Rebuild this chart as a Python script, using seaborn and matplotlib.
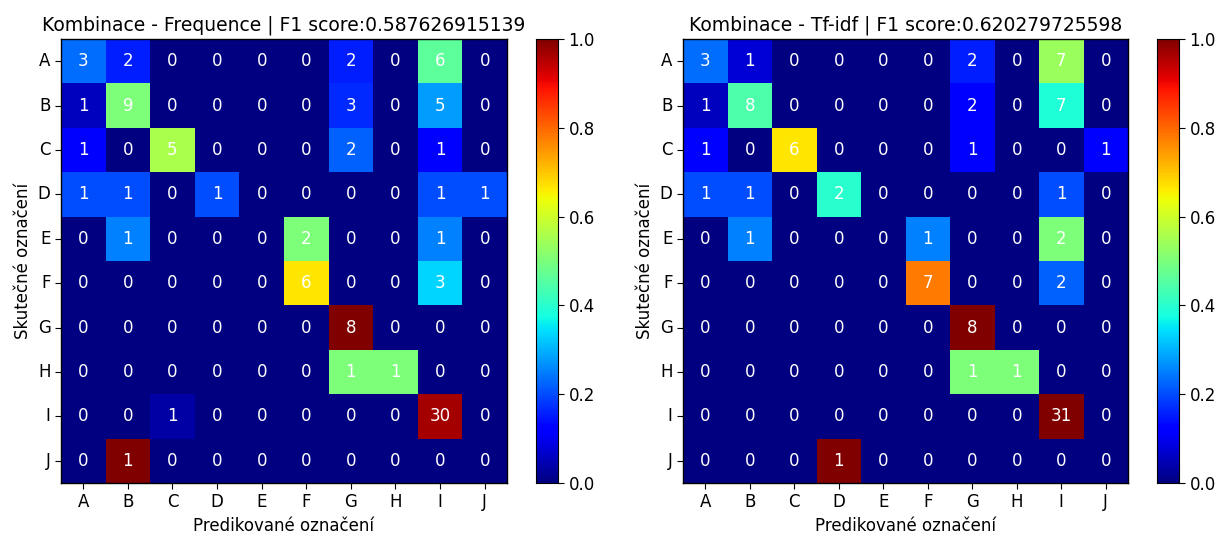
import numpy as np
import pandas as pd
import seaborn as sns
import matplotlib
matplotlib.use("Agg")
import matplotlib.pyplot as plt

labels = ["A", "B", "C", "D", "E", "F", "G", "H", "I", "J"]

# confusion matrix - frequence
cm_freq = [
    [3, 2, 0, 0, 0, 0, 2, 0, 6, 0],
    [1, 9, 0, 0, 0, 0, 3, 0, 5, 0],
    [1, 0, 5, 0, 0, 0, 2, 0, 1, 0],
    [1, 1, 0, 1, 0, 0, 0, 0, 1, 1],
    [0, 1, 0, 0, 0, 2, 0, 0, 1, 0],
    [0, 0, 0, 0, 0, 6, 0, 0, 3, 0],
    [0, 0, 0, 0, 0, 0, 8, 0, 0, 0],
    [0, 0, 0, 0, 0, 0, 1, 1, 0, 0],
    [0, 0, 1, 0, 0, 0, 0, 0, 30, 0],
    [0, 1, 0, 0, 0, 0, 0, 0, 0, 0],
]

# confusion matrix - tf-idf
cm_tfidf = [
    [3, 1, 0, 0, 0, 0, 2, 0, 7, 0],
    [1, 8, 0, 0, 0, 0, 2, 0, 7, 0],
    [1, 0, 6, 0, 0, 0, 1, 0, 0, 1],
    [1, 1, 0, 2, 0, 0, 0, 0, 1, 0],
    [0, 1, 0, 0, 0, 1, 0, 0, 2, 0],
    [0, 0, 0, 0, 0, 7, 0, 0, 2, 0],
    [0, 0, 0, 0, 0, 0, 8, 0, 0, 0],
    [0, 0, 0, 0, 0, 0, 1, 1, 0, 0],
    [0, 0, 0, 0, 0, 0, 0, 0, 31, 0],
    [0, 0, 0, 1, 0, 0, 0, 0, 0, 0],
]

titles = ["Kombinace - Frequence | F1 score:0.587626915139",
          "Kombinace - Tf-idf | F1 score:0.620279725598"]

fig = plt.figure(figsize=(12.32, 5.33), dpi=100)
axes_pos = [[0.0495, 0.0938, 0.3620, 0.8330], [0.5544, 0.0938, 0.3612, 0.8330]]
cbar_pos = [[0.4351, 0.0938, 0.0179, 0.8330], [0.9391, 0.0938, 0.0179, 0.8330]]

for cm, title, apos, cpos in zip([cm_freq, cm_tfidf], titles, axes_pos, cbar_pos):
    counts = pd.DataFrame(cm, index=labels, columns=labels)
    # normalize each row for the colors
    norm = counts.div(counts.sum(axis=1), axis=0)
    ax = fig.add_axes(apos)
    cax = fig.add_axes(cpos)
    sns.heatmap(norm, ax=ax, cbar_ax=cax, cmap="jet", vmin=0, vmax=1,
                annot=counts, fmt="d", annot_kws={"color": "white", "fontsize": 12})
    for t in ax.texts:
        t.set_color("white")
    for s in ax.spines.values():
        s.set_visible(True)
        s.set_linewidth(1)
    ax.set_title(title, fontsize=13.5)
    ax.set_xlabel("Predikované označení", fontsize=12)
    ax.set_ylabel("Skutečné označení", fontsize=12)
    ax.tick_params(axis="both", length=4, labelsize=12)
    ax.set_yticklabels(labels, rotation=0)
    ax.set_xticklabels(labels, rotation=0)
    cax.set_yticks([0.0, 0.2, 0.4, 0.6, 0.8, 1.0])
    cax.tick_params(labelsize=12, length=4)
    cax.yaxis.set_major_formatter(matplotlib.ticker.FormatStrFormatter("%.1f"))
    for s in cax.spines.values():
        s.set_visible(True)

plt.savefig("out.png", dpi=100)
